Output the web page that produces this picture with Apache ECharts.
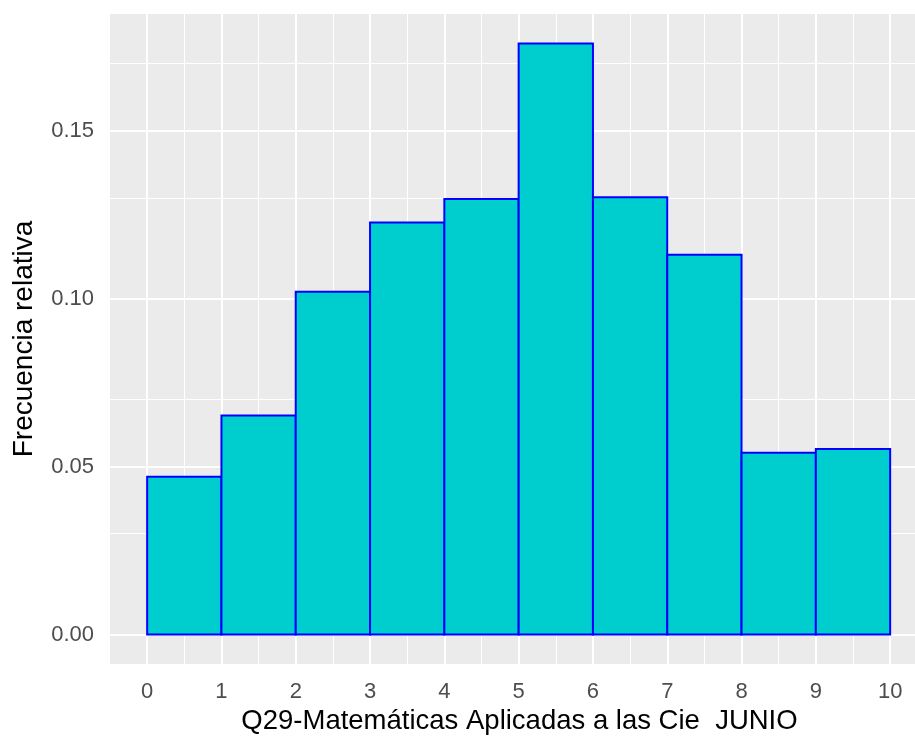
<!DOCTYPE html>
<html><head><meta charset="utf-8">
<script src="https://cdn.jsdelivr.net/npm/echarts@6/dist/echarts.min.js"></script>
<style>html,body{margin:0;padding:0;background:#fff}#c{width:915px;height:743px}</style>
</head><body><div id="c"></div><script>
// ---- data ----
const binEdges = [0, 1, 2, 3, 4, 5, 6, 7, 8, 9, 10];
const relFreq = [0.0470, 0.0652, 0.1021, 0.1227, 0.1297, 0.1760, 0.1302, 0.1131, 0.0541, 0.0552];
const xTicks = [0, 1, 2, 3, 4, 5, 6, 7, 8, 9, 10];
const xMinor = [0.5, 1.5, 2.5, 3.5, 4.5, 5.5, 6.5, 7.5, 8.5, 9.5];
const yTicks = [0, 0.05, 0.10, 0.15];
const yMinor = [0.025, 0.075, 0.125, 0.175];
const xTitle = 'Q29-Matemáticas Aplicadas a las Cie  JUNIO';
const yTitle = 'Frecuencia relativa';

// panel spans 110..915 px; ggplot expands -0.5..10.5 but the right side is cut by the image edge
const gridLeft = 110, gridWidth = 805, pxPerUnit = 74.3;
const xMin = -0.5;
const xMax = xMin + gridWidth / pxPerUnit;
const yMax = Math.max(...relFreq) * 1.05;
const yMin = -Math.max(...relFreq) * 0.05;

const FONT = 'Liberation Sans';
const chart = echarts.init(document.getElementById('c'), null, {renderer: 'canvas'});

const gridLines = [];
xTicks.forEach(v => gridLines.push({xAxis: v, lineStyle: {width: 2}}));
xMinor.forEach(v => gridLines.push({xAxis: v, lineStyle: {width: 1}}));
yTicks.forEach(v => gridLines.push({yAxis: v, lineStyle: {width: 2}}));
yMinor.forEach(v => gridLines.push({yAxis: v, lineStyle: {width: 1}}));

chart.setOption({
  animation: false,
  backgroundColor: '#ffffff',
  grid: {left: gridLeft, top: 14, width: gridWidth, height: 650, show: true,
         backgroundColor: '#EBEBEB', borderWidth: 0, containLabel: false},
  xAxis: {
    type: 'value', min: xMin, max: xMax,
    axisLine: {show: false},
    splitLine: {show: false},
    axisTick: {show: true, customValues: xTicks, length: 7, lineStyle: {color: '#333333', width: 1.5}},
    axisLabel: {customValues: xTicks, margin: 17, color: '#4D4D4D', fontFamily: FONT, fontSize: 22,
                formatter: v => String(v)},
    name: xTitle, nameLocation: 'middle', nameGap: 43,
    nameTextStyle: {color: '#000000', fontFamily: FONT, fontSize: 27.5, padding: [0, 0, 0, 14]}
  },
  yAxis: {
    type: 'value', min: yMin, max: yMax,
    axisLine: {show: false},
    splitLine: {show: false},
    axisTick: {show: true, customValues: yTicks, length: 7, lineStyle: {color: '#333333', width: 1.5}},
    axisLabel: {customValues: yTicks, margin: 16, color: '#4D4D4D', fontFamily: FONT, fontSize: 22,
                formatter: v => v.toFixed(2)},
    name: yTitle, nameLocation: 'middle', nameGap: 72, nameRotate: 90,
    nameTextStyle: {color: '#000000', fontFamily: FONT, fontSize: 28}
  },
  series: [
    {
      type: 'line', data: [], z: 1, silent: true,
      markLine: {silent: true, z: 1, symbol: ['none', 'none'], animation: false,
                 label: {show: false}, lineStyle: {color: '#FFFFFF', type: 'solid'},
                 emphasis: {disabled: true},
                 data: gridLines}
    },
    {
      type: 'custom', z: 3,
      data: relFreq.map((v, i) => [binEdges[i], binEdges[i + 1], v]),
      encode: {x: [0, 1], y: 2},
      renderItem: function (params, api) {
        const p0 = api.coord([api.value(0), api.value(2)]);
        const p1 = api.coord([api.value(1), 0]);
        return {
          type: 'rect',
          shape: {x: p0[0], y: p0[1], width: p1[0] - p0[0], height: p1[1] - p0[1]},
          style: {fill: '#00CDCD', stroke: '#0000FF', lineWidth: 2}
        };
      }
    }
  ]
});
</script></body></html>
